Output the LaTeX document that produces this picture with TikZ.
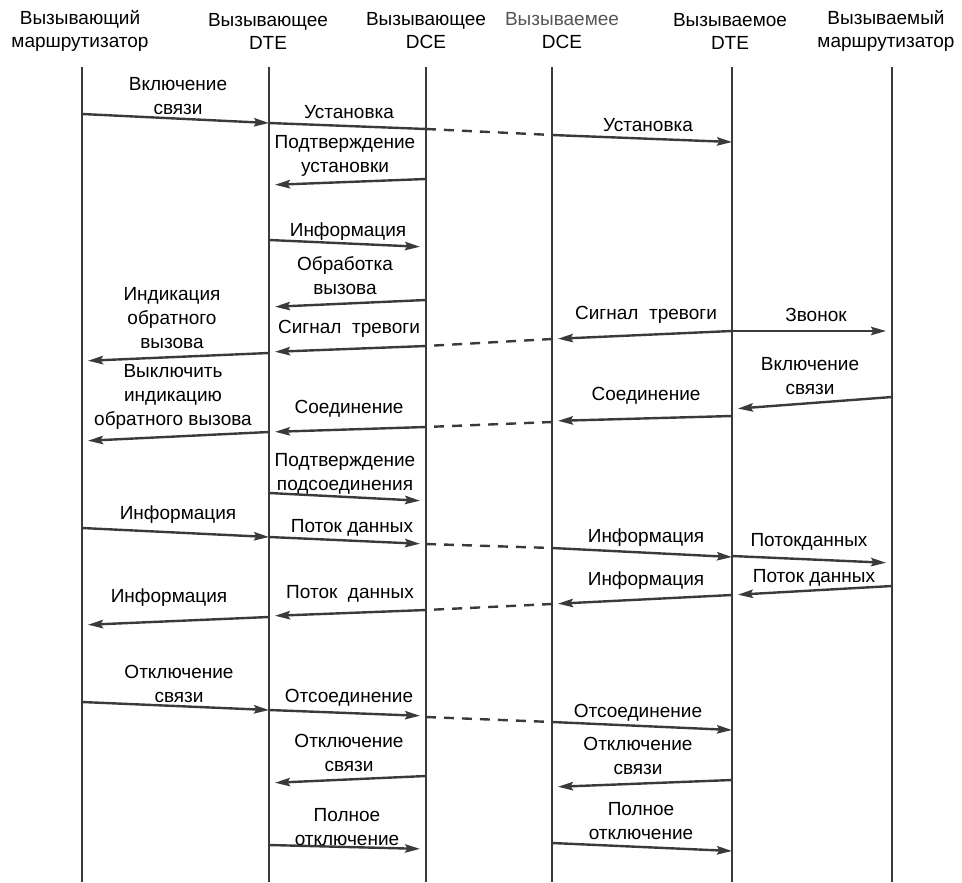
\documentclass[tikz,border=0pt]{standalone}
\usepackage{fontspec}
\setmainfont{Liberation Sans}
\usetikzlibrary{positioning, arrows.meta}
\definecolor{ink}{HTML}{3A3A3A}
\definecolor{headgray}{HTML}{555555}

\begin{document}
\begin{tikzpicture}[
    x=0.5pt, y=-0.5pt,
    head/.style={font=\fontsize{9.5}{11.5}\selectfont, align=center, inner sep=0pt},
    lbl/.style={font=\fontsize{9.5}{12}\selectfont, align=center, inner sep=0pt},
    life/.style={ink, line width=1.3pt},
    arrow/.style={-{Stealth[length=7.5pt, width=4.2pt, inset=1.2pt]}, ink, line width=1.2pt, shorten >=3pt},
    link/.style={ink, line width=1.2pt, dash pattern=on 5pt off 4pt},
]
    \useasboundingbox (0,0) rectangle (962,882);

    % Parties
    \node[head] (hr1) at (80,31) {Вызывающий\\маршрутизатор};
    \node[head] (hdte1) at (268,31) {Вызывающее\\DTE};
    \node[head] (hdce1) at (426,31) {Вызывающее\\DCE};
    \node[head] (hdce2) at (562,31) {\textcolor{headgray}{Вызываемее}\\DCE};
    \node[head] (hdte2) at (730,31) {Вызываемое\\DTE};
    \node[head] (hr2) at (886,31) {Вызываемый\\маршрутизатор};

    % Lifelines
    \coordinate (r1) at (82,67);
    \coordinate (dte1) at (269,67);
    \coordinate (dce1) at (426,67);
    \coordinate (dce2) at (552,67);
    \coordinate (dte2) at (732,67);
    \coordinate (r2) at (892,67);
    \coordinate (bottom) at (0,882);
    \draw[life] (r1) -- (r1 |- bottom);
    \draw[life] (dte1) -- (dte1 |- bottom);
    \draw[life] (dce1) -- (dce1 |- bottom);
    \draw[life] (dce2) -- (dce2 |- bottom);
    \draw[life] (dte2) -- (dte2 |- bottom);
    \draw[life] (r2) -- (r2 |- bottom);

    % Call set-up
    \draw[arrow, shorten >=0pt] (r1 |- 0,114) -- (dte1 |- 0,123);
    \node[lbl] (on1) at (178,96) {Включение\\связи};
    \draw[ink, line width=1.2pt] (dte1 |- 0,123) -- (dce1 |- 0,129);
    \node[lbl] (setup1) at (349,112) {Установка};
    \draw[link] (dce1 |- 0,129) -- (dce2 |- 0,135);
    \draw[arrow, shorten >=0pt] (dce2 |- 0,135) -- (dte2 |- 0,142);
    \node[lbl] (setup2) at (648,125) {Установка};

    \draw[arrow] (dce1 |- 0,179) -- (dte1 |- 0,185);
    \node[lbl] (setupack) at (345,156) {Подтверждение\\установки};

    \draw[arrow] (dte1 |- 0,240) -- (dce1 |- 0,247);
    \node[lbl] (info1) at (348,232) {Информация};

    \draw[arrow] (dce1 |- 0,300) -- (dte1 |- 0,307);
    \node[lbl] (proc) at (345,276) {Обработка\\вызова};

    % Alerting
    \draw[arrow] (dte2 |- 0,331) -- (r2 |- 0,331);
    \node[lbl] (ring) at (816,315) {Звонок};
    \draw[arrow] (dte2 |- 0,331) -- (dce2 |- 0,339);
    \node[lbl] (alarm2) at (646,315) {Сигнал\ \ тревоги};
    \draw[link] (dce2 |- 0,339) -- (dce1 |- 0,346);
    \draw[arrow] (dce1 |- 0,346) -- (dte1 |- 0,352);
    \node[lbl] (alarm1) at (349,329) {Сигнал\ \ тревоги};
    \draw[arrow] (dte1 |- 0,353) -- (r1 |- 0,361);
    \node[lbl] (cbon) at (172,318) {Индикация\\обратного\\вызова};

    % Connect
    \draw[arrow] (r2 |- 0,397) -- (dte2 |- 0,409);
    \node[lbl] (on2) at (810,376) {Включение\\связи};
    \draw[arrow] (dte2 |- 0,416) -- (dce2 |- 0,421);
    \node[lbl] (conn2) at (646,396) {Соединение};
    \draw[link] (dce2 |- 0,422) -- (dce1 |- 0,427);
    \draw[arrow] (dce1 |- 0,427) -- (dte1 |- 0,432);
    \node[lbl] (conn1) at (349,409) {Соединение};
    \draw[arrow] (dte1 |- 0,432) -- (r1 |- 0,441);
    \node[lbl] (cboff) at (173,397) {Выключить\\индикацию\\обратного вызова};

    \draw[arrow] (dte1 |- 0,493) -- (dce1 |- 0,501);
    \node[lbl] (connack) at (345,474) {Подтверждение\\подсоединения};

    % Data transfer
    \draw[arrow, shorten >=0pt] (r1 |- 0,528) -- (dte1 |- 0,537);
    \node[lbl] (info2) at (178,515) {Информация};
    \draw[arrow] (dte1 |- 0,537) -- (dce1 |- 0,544);
    \node[lbl] (data1) at (352,528) {Поток данных};
    \draw[link] (dce1 |- 0,544) -- (dce2 |- 0,548);
    \draw[arrow, shorten >=0pt] (dce2 |- 0,548) -- (dte2 |- 0,557);
    \node[lbl] (info3) at (646,538) {Информация};
    \draw[arrow] (dte2 |- 0,556) -- (r2 |- 0,563);
    \node[lbl] (data2) at (809,542) {Потокданных};

    \draw[arrow] (r2 |- 0,586) -- (dte2 |- 0,595);
    \node[lbl] (data3) at (814,578) {Поток данных};
    \draw[arrow] (dte2 |- 0,595) -- (dce2 |- 0,604);
    \node[lbl] (info4) at (646,581) {Информация};
    \draw[link] (dce2 |- 0,604) -- (dce1 |- 0,610);
    \draw[arrow] (dce1 |- 0,610) -- (dte1 |- 0,616);
    \node[lbl] (data4) at (350,594) {Поток\ \ данных};
    \draw[arrow] (dte1 |- 0,617) -- (r1 |- 0,625);
    \node[lbl] (info5) at (169,598) {Информация};

    % Clearing
    \draw[arrow, shorten >=0pt] (r1 |- 0,702) -- (dte1 |- 0,710);
    \node[lbl] (off1) at (179,684) {Отключение\\связи};
    \draw[arrow] (dte1 |- 0,710) -- (dce1 |- 0,716);
    \node[lbl] (disc1) at (349,698) {Отсоединение};
    \draw[link] (dce1 |- 0,717) -- (dce2 |- 0,722);
    \draw[arrow, shorten >=0pt] (dce2 |- 0,722) -- (dte2 |- 0,730);
    \node[lbl] (disc2) at (638,713) {Отсоединение};

    \draw[arrow] (dce1 |- 0,776) -- (dte1 |- 0,783);
    \node[lbl] (off2) at (349,753) {Отключение\\связи};
    \draw[arrow] (dte2 |- 0,780) -- (dce2 |- 0,787);
    \node[lbl] (off3) at (638,756) {Отключение\\связи};

    \draw[arrow] (dte1 |- 0,845) -- (dce1 |- 0,849);
    \node[lbl] (rel1) at (347,827) {Полное\\отключение};
    \draw[arrow, shorten >=0pt] (dce2 |- 0,843) -- (dte2 |- 0,851);
    \node[lbl] (rel2) at (641,821) {Полное\\отключение};

\end{tikzpicture}
\end{document}
